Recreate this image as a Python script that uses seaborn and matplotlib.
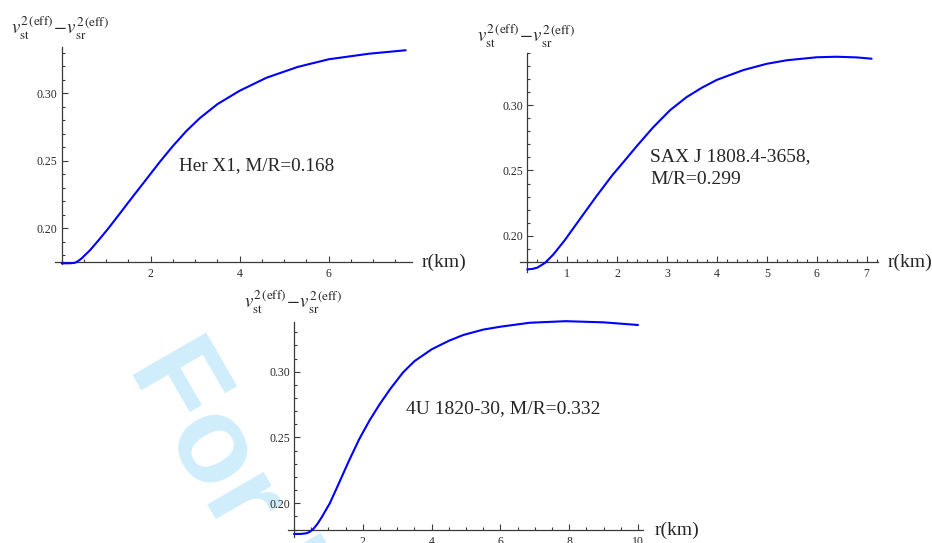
import numpy as np
import pandas as pd
import matplotlib
matplotlib.use("Agg")
import matplotlib.pyplot as plt
from matplotlib.ticker import FixedLocator, MultipleLocator, FormatStrFormatter
import seaborn as sns

# ---- data: v_st^2(eff) - v_sr^2(eff) versus r (km) for three compact stars ----
her_r = [0.0, 0.15, 0.22, 0.3, 0.38, 0.45, 0.64, 0.85, 1.05, 1.31, 1.61, 1.89,
         2.2, 2.5, 2.8, 3.1, 3.5, 4.0, 4.6, 5.3, 6.0, 6.9, 7.73]
her_v = [0.1741, 0.1741, 0.1742, 0.1745, 0.1760, 0.1778, 0.1839, 0.1920,
         0.2000, 0.2111, 0.2240, 0.2358, 0.2490, 0.2610, 0.2720, 0.2815,
         0.2920, 0.3019, 0.3115, 0.3195, 0.3252, 0.3293, 0.3319]

sax_r = [0.2, 0.3, 0.4, 0.55, 0.72, 0.95, 1.25, 1.59, 1.9, 2.15, 2.39, 2.72,
         3.06, 3.39, 3.7, 4.0, 4.53, 5.0, 5.4, 6.0, 6.4, 6.8, 7.1]
sax_v = [0.1742, 0.1745, 0.1755, 0.1790, 0.1855, 0.1965, 0.2125, 0.2305,
         0.2462, 0.2575, 0.2685, 0.2830, 0.2962, 0.3062, 0.3135, 0.3195,
         0.3270, 0.3318, 0.3345, 0.3368, 0.3372, 0.3367, 0.3357]

u4_r = [0.0, 0.2, 0.36, 0.45, 0.56, 0.68, 0.8, 1.04, 1.3, 1.6, 1.9, 2.2, 2.5,
        2.8, 3.17, 3.5, 4.0, 4.5, 4.92, 5.5, 6.0, 6.85, 7.9, 9.0, 10.0]
u4_v = [0.1767, 0.1767, 0.1772, 0.1782, 0.1805, 0.1843, 0.1892, 0.2000,
        0.2150, 0.2325, 0.2490, 0.2632, 0.2757, 0.2870, 0.2995, 0.3080,
        0.3170, 0.3235, 0.3279, 0.3320, 0.3342, 0.3372, 0.3384, 0.3375,
        0.3355]

titles = ["Her X1, M/R=0.168", "SAX J 1808.4-3658,\nM/R=0.299",
          "4U 1820-30, M/R=0.332"]
x_major = [[2, 4, 6], [1, 2, 3, 4, 5, 6, 7], [2, 4, 6, 8, 10]]
y_major = [0.20, 0.25, 0.30]
ylabel = r"$v_{\rm st}^{2\,(\rm eff)}\!-\!v_{\rm sr}^{2\,(\rm eff)}$"
xlabel = "r(km)"

# ---- style ----
sns.set_style("white")
plt.rcParams["font.family"] = ["Liberation Serif", "DejaVu Serif"]
plt.rcParams["mathtext.fontset"] = "stix"

W, H = 932, 543
fig = plt.figure(figsize=(W / 100, H / 100), dpi=100)
fig.patch.set_facecolor("white")

AX_COLOR = "#3a3a3a"
LINE_COLOR = "#0000ff"


def add_axes_px(left, top, right, bottom):
    return fig.add_axes([left / W, 1 - bottom / H, (right - left) / W,
                         (bottom - top) / H])


# panel geometry: (pixel box), x limits, y limits, axis crossing point
panels = [
    dict(box=(54.7, 47.4, 411.9, 264.1), xlim=(-0.157, 7.87),
         ylim=(0.1735, 0.334), origin=(0.0, 0.175), minor_x=0.5,
         r=her_r, v=her_v),
    dict(box=(520.3, 52.7, 878.1, 271.7), xlim=(0.06, 7.23),
         ylim=(0.1724, 0.3403), origin=(0.2, 0.180), minor_x=0.2,
         r=sax_r, v=sax_v),
    dict(box=(287.5, 321.7, 643.2, 536.7), xlim=(-0.19, 10.15),
         ylim=(0.1746, 0.338), origin=(0.0, 0.180), minor_x=0.5,
         r=u4_r, v=u4_v),
]

for i, p in enumerate(panels):
    ax = add_axes_px(*p["box"])
    ax.set_facecolor("none")
    df = pd.DataFrame({"r": p["r"], "v": p["v"]})
    sns.lineplot(data=df, x="r", y="v", ax=ax, color=LINE_COLOR,
                 linewidth=1.5, sort=False, clip_on=False, zorder=5)
    ax.set_xlim(*p["xlim"])
    ax.set_ylim(*p["ylim"])
    ax.set_xlabel("")
    ax.set_ylabel("")
    for s in ("top", "right"):
        ax.spines[s].set_visible(False)
    ax.spines["left"].set_position(("data", p["origin"][0]))
    ax.spines["bottom"].set_position(("data", p["origin"][1]))
    for s in ("left", "bottom"):
        ax.spines[s].set_color(AX_COLOR)
        ax.spines[s].set_linewidth(0.9)
    ax.xaxis.set_major_locator(FixedLocator(x_major[i]))
    ax.xaxis.set_minor_locator(MultipleLocator(p["minor_x"]))
    ax.yaxis.set_major_locator(FixedLocator(y_major))
    ax.yaxis.set_minor_locator(MultipleLocator(0.01))
    ax.yaxis.set_major_formatter(FormatStrFormatter("%.2f"))
    ax.xaxis.set_major_formatter(FormatStrFormatter("%d"))
    ax.tick_params(which="both", direction="in", color=AX_COLOR, width=0.8,
                   bottom=True, left=True, top=False, right=False,
                   labelsize=8.5, labelcolor="#2a2a2a")
    ax.tick_params(which="major", length=4)
    ax.tick_params(which="minor", length=2.3)
    ax.tick_params(axis="x", which="major", pad=4.5)
    ax.tick_params(axis="y", which="major", pad=3)

# axis titles above each vertical axis
for (x, y) in [(11, 35), (477, 42.7), (244, 309)]:
    fig.text(x / W, 1 - y / H, ylabel, fontsize=13.5, ha="left",
             va="baseline")

# r(km) at the end of each horizontal axis
for (x, y) in [(422, 266.5), (888, 266.5), (655, 535)]:
    fig.text(x / W, 1 - y / H, xlabel, fontsize=14, ha="left",
             va="baseline")

# star labels
fig.text(179 / W, 1 - 170 / H, titles[0], fontsize=13.8, ha="left",
         va="baseline")
fig.text(650 / W, 1 - 184 / H, titles[1], fontsize=14, ha="left",
         va="baseline", linespacing=1.45)
fig.text(406 / W, 1 - 412.7 / H, titles[2], fontsize=14, ha="left",
         va="baseline")

# review watermark
fig.text(128 / W, 1 - 368 / H, "For Review Only", fontsize=88,
         family="Liberation Sans", weight="bold", color="#d0edfb",
         rotation=-60, rotation_mode="anchor", ha="left", va="baseline",
         zorder=-10)

fig.savefig("out.png", dpi=100, facecolor="white")
